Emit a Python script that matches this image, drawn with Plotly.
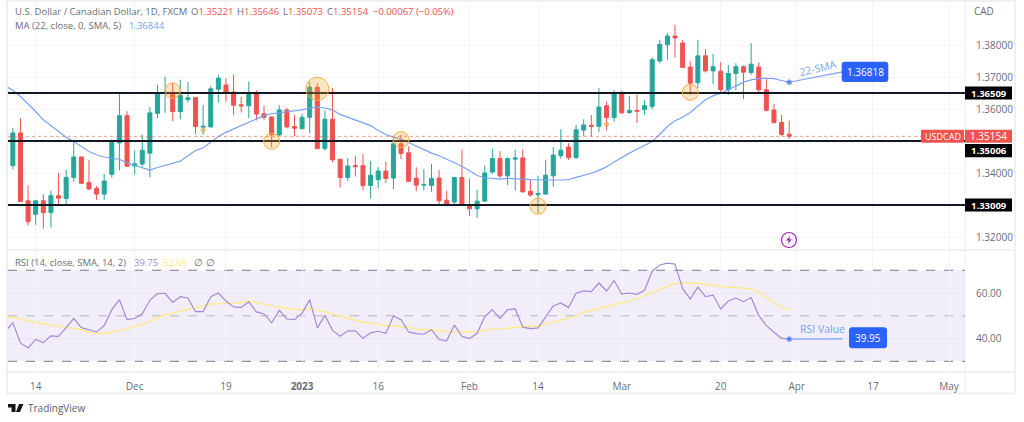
import plotly.graph_objects as go

opens = [
    1.3424, 1.3526, 1.3314, 1.3272, 1.3314, 1.3277, 1.3330, 1.3321, 1.3387, 1.3451,
    1.3371, 1.3353, 1.3335, 1.3397, 1.3495, 1.3580, 1.3423, 1.3429, 1.3463, 1.3587,
    1.3651, 1.3653, 1.3593, 1.3630, 1.3637, 1.3544, 1.3545, 1.3663, 1.3676, 1.3654,
    1.3614, 1.3611, 1.3650, 1.3586, 1.3576, 1.3520, 1.3598, 1.3546, 1.3539, 1.3575,
    1.3669, 1.3477, 1.3569, 1.3444, 1.3387, 1.3424, 1.3424, 1.3362, 1.3380, 1.3407,
    1.3385, 1.3492, 1.3464, 1.3385, 1.3363, 1.3362, 1.3385, 1.3316, 1.3310, 1.3387,
    1.3302, 1.3289, 1.3313, 1.3404, 1.3446, 1.3392, 1.3444, 1.3448, 1.3344, 1.3333,
    1.3335, 1.3392, 1.3455, 1.3482, 1.3449, 1.3535, 1.3550, 1.3547, 1.3611, 1.3574,
    1.3649, 1.3590, 1.3596, 1.3599, 1.3609, 1.3751, 1.3802, 1.3829, 1.3807, 1.3732,
    1.3683, 1.3767, 1.3720, 1.3719, 1.3661, 1.3712, 1.3733, 1.3715, 1.3732, 1.3661,
    1.3598, 1.3559, 1.35221,
]
highs = [
    1.3542, 1.3572, 1.3362, 1.3317, 1.3335, 1.3346, 1.3401, 1.3411, 1.3505, 1.3452,
    1.3442, 1.3361, 1.3398, 1.3505, 1.3647, 1.3594, 1.3472, 1.3521, 1.3607, 1.3677,
    1.3702, 1.3682, 1.3692, 1.3685, 1.3637, 1.3614, 1.3673, 1.3707, 1.3697, 1.3708,
    1.3639, 1.3687, 1.3659, 1.3611, 1.3577, 1.3613, 1.3604, 1.3582, 1.3586, 1.3686,
    1.3682, 1.3596, 1.3667, 1.3444, 1.3447, 1.3455, 1.3460, 1.3439, 1.3419, 1.3436,
    1.3510, 1.3521, 1.3484, 1.3419, 1.3413, 1.3429, 1.3410, 1.3346, 1.3389, 1.3474,
    1.3383, 1.3348, 1.3425, 1.3476, 1.3469, 1.3450, 1.3473, 1.3475, 1.3382, 1.3392,
    1.3442, 1.3482, 1.3538, 1.3494, 1.3551, 1.3569, 1.3582, 1.3666, 1.3624, 1.3661,
    1.3659, 1.3642, 1.3646, 1.3629, 1.3762, 1.3817, 1.3838, 1.3864, 1.3817, 1.3750,
    1.3817, 1.3788, 1.3773, 1.3748, 1.3739, 1.3744, 1.3737, 1.3807, 1.3747, 1.3694,
    1.3616, 1.3582, 1.35646,
]
lows = [
    1.3412, 1.3311, 1.3237, 1.3239, 1.3227, 1.3230, 1.3304, 1.3303, 1.3374, 1.3366,
    1.3348, 1.3317, 1.3317, 1.3387, 1.3409, 1.3421, 1.3397, 1.3421, 1.3388, 1.3572,
    1.3589, 1.3563, 1.3569, 1.3621, 1.3522, 1.3521, 1.3543, 1.3621, 1.3624, 1.3582,
    1.3590, 1.3572, 1.3565, 1.3567, 1.3482, 1.3517, 1.3541, 1.3515, 1.3538, 1.3525,
    1.3476, 1.3471, 1.3435, 1.3356, 1.3376, 1.3390, 1.3346, 1.3321, 1.3353, 1.3369,
    1.3351, 1.3444, 1.3373, 1.3344, 1.3346, 1.3342, 1.3303, 1.3302, 1.3299, 1.3301,
    1.3267, 1.3261, 1.3311, 1.3398, 1.3385, 1.3363, 1.3346, 1.3340, 1.3327, 1.3275,
    1.3333, 1.3358, 1.3446, 1.3442, 1.3444, 1.3515, 1.3515, 1.3529, 1.3534, 1.3561,
    1.3585, 1.3585, 1.3557, 1.3583, 1.3600, 1.3744, 1.3755, 1.3762, 1.3729, 1.3645,
    1.3666, 1.3715, 1.3679, 1.3648, 1.3645, 1.3659, 1.3632, 1.3708, 1.3652, 1.3593,
    1.3557, 1.3517, 1.35073,
]
closes = [
    1.3526, 1.3312, 1.3249, 1.3314, 1.3277, 1.3330, 1.3322, 1.3387, 1.3451, 1.3369,
    1.3351, 1.3335, 1.3376, 1.3496, 1.3580, 1.3422, 1.3430, 1.3472, 1.3589, 1.3651,
    1.3653, 1.3593, 1.3644, 1.3636, 1.3546, 1.3547, 1.3664, 1.3697, 1.3654, 1.3613,
    1.3611, 1.3650, 1.3585, 1.3575, 1.3520, 1.3598, 1.3545, 1.3541, 1.3575, 1.3669,
    1.3477, 1.3569, 1.3442, 1.3387, 1.3423, 1.3421, 1.3362, 1.3394, 1.3407, 1.3384,
    1.3492, 1.3462, 1.3375, 1.3363, 1.3365, 1.3384, 1.3314, 1.3303, 1.3387, 1.3302,
    1.3289, 1.3313, 1.3401, 1.3446, 1.3392, 1.3446, 1.3448, 1.3342, 1.3332, 1.3337,
    1.3394, 1.3457, 1.3472, 1.3449, 1.3536, 1.3551, 1.3547, 1.3607, 1.3574, 1.3649,
    1.3589, 1.3596, 1.3594, 1.3611, 1.3755, 1.3803, 1.3829, 1.3823, 1.3731, 1.3682,
    1.3767, 1.3720, 1.3733, 1.3661, 1.3712, 1.3733, 1.3716, 1.3741, 1.3661, 1.3597,
    1.3558, 1.3521, 1.35154,
]

# these three start one bar left of the first candle, the chart clips them
sma22 = [
    1.3673, 1.3659, 1.3640, 1.3617, 1.3593, 1.3567, 1.3548, 1.3530, 1.3513, 1.3499,
    1.3484, 1.3468, 1.3458, 1.3451, 1.3447, 1.3444, 1.3432, 1.3424, 1.3416, 1.3410,
    1.3418, 1.3425, 1.3432, 1.3438, 1.3455, 1.3471, 1.3480, 1.3497, 1.3515, 1.3528,
    1.3538, 1.3548, 1.3560, 1.3569, 1.3580, 1.3586, 1.3589, 1.3590, 1.3593, 1.3598,
    1.3604, 1.3607, 1.3604, 1.3598, 1.3584, 1.3575, 1.3567, 1.3557, 1.3549, 1.3534,
    1.3521, 1.3513, 1.3507, 1.3496, 1.3485, 1.3473, 1.3463, 1.3455, 1.3444, 1.3434,
    1.3422, 1.3408, 1.3393, 1.3386, 1.3383, 1.3382, 1.3384, 1.3384, 1.3382, 1.3380,
    1.3379, 1.3379, 1.3379, 1.3379, 1.3380, 1.3387, 1.3393, 1.3400, 1.3409, 1.3420,
    1.3435, 1.3450, 1.3463, 1.3475, 1.3487, 1.3499, 1.3522, 1.3546, 1.3564, 1.3575,
    1.3590, 1.3611, 1.3630, 1.3642, 1.3650, 1.3661, 1.3674, 1.3685, 1.3692, 1.3696,
    1.3697, 1.3696, 1.3690, 1.36844,
]
rsi = [
    43.2, 46.9, 38.1, 35.9, 39.6, 38.2, 41.2, 41.0, 44.8, 48.8,
    44.8, 43.8, 42.9, 45.7, 52.7, 57.1, 48.3, 48.8, 50.9, 56.8,
    59.7, 59.9, 55.9, 58.4, 57.8, 51.8, 51.8, 58.4, 60.0, 56.5,
    53.9, 53.7, 56.1, 51.7, 50.8, 46.9, 52.4, 48.6, 48.3, 51.1,
    57.1, 44.7, 50.2, 43.6, 41.0, 43.4, 43.4, 40.1, 42.5, 43.2,
    42.3, 49.9, 48.3, 42.9, 42.2, 41.9, 43.9, 39.6, 39.0, 46.0,
    41.0, 40.0, 42.3, 49.6, 52.7, 48.8, 52.7, 53.0, 45.0, 44.4,
    44.7, 49.5, 54.3, 55.6, 53.6, 59.9, 60.9, 60.6, 64.4, 60.9,
    65.5, 59.6, 60.0, 59.4, 61.2, 69.6, 72.3, 73.1, 72.7, 61.9,
    57.4, 62.6, 58.4, 59.1, 53.0, 56.5, 57.8, 56.2, 58.0, 50.2,
    45.7, 42.8, 40.1, 39.75,
]
rsi_ma = [
    49.9, 49.2, 48.5, 47.7, 46.9, 46.3, 45.8, 45.4, 44.8, 44.4,
    43.9, 42.8, 42.2, 42.2, 42.8, 43.5, 44.2, 45.3, 46.3, 47.4,
    49.2, 50.4, 51.1, 52.0, 52.8, 53.6, 54.3, 55.2, 55.3, 55.3,
    55.6, 55.9, 56.4, 55.9, 55.0, 54.3, 53.9, 53.3, 52.8, 52.7,
    53.0, 52.3, 51.7, 50.7, 49.8, 48.9, 48.0, 47.2, 46.7, 46.4,
    45.7, 45.5, 45.5, 45.0, 44.1, 43.8, 43.5, 43.2, 43.1, 42.9,
    42.9, 42.9, 43.2, 43.6, 44.2, 44.2, 44.5, 45.0, 45.3, 45.5,
    45.5, 46.3, 47.4, 48.0, 48.9, 50.1, 51.5, 52.3, 53.1, 54.0,
    55.0, 55.5, 56.5, 57.5, 58.8, 60.3, 61.6, 62.9, 64.2, 64.5,
    64.4, 64.2, 63.8, 63.6, 62.9, 62.6, 62.5, 62.2, 61.8, 60.3,
    58.1, 55.9, 53.7, 52.66,
]

tick_bars = [3, 16, 28, 38, 48, 60, 69, 80, 93, 103, 113, 123]
tick_labels = ['14', 'Dec', '19', '<b>2023</b>', '16', 'Feb', '14', 'Mar', '20', 'Apr', '17', 'May']
price_ticks = [1.38, 1.37, 1.36, 1.35, 1.34, 1.33, 1.32]
price_labels = ['1.38000', '1.37000', '1.36000', '', '1.34000', '', '1.32000']
levels = [1.36509, 1.35006, 1.33009]
last_close = 1.35154

# bar index, price, radius in px
touch_circles = [
    (21, 1.3658, 7.7), (34, 1.3500, 8), (40, 1.3664, 11.5), (51, 1.3505, 8),
    (69, 1.3297, 8), (89, 1.3653, 8), (78, 1.3553, 2), (25, 1.3536, 2),
]

W, H = 1024, 422
LEFT, RIGHT = 8, 965
X_RANGE = [-0.64, 125.1]
PRICE_RANGE = [1.31634, 1.39384]
RSI_RANGE = [25.75, 78.46]
BAR_PX = 7.61
PRICE_PX = 3200

FONT = 'Open Sans'
TEXT = '#6a6d78'
BORDER = '#eef0f6'
GRID = '#f2f4f9'
GREEN = '#26a69a'
RED = '#ef5350'
BLUE = '#2962ff'
SMA_BLUE = '#7ba1f7'
PURPLE = '#a48bd6'
YELLOW = '#fdeb7a'
LEGEND_SIZE = 9.5


def px(x):
    return x / W


def py(y):
    return 1 - y / H


def box_path(x0, y0, x1, y1, r=3):
    # rounded box given in pixels of the page
    return (
        f'M {px(x0 + r)} {py(y0)} L {px(x1 - r)} {py(y0)} Q {px(x1)} {py(y0)} {px(x1)} {py(y0 + r)} '
        f'L {px(x1)} {py(y1 - r)} Q {px(x1)} {py(y1)} {px(x1 - r)} {py(y1)} '
        f'L {px(x0 + r)} {py(y1)} Q {px(x0)} {py(y1)} {px(x0)} {py(y1 - r)} '
        f'L {px(x0)} {py(y0 + r)} Q {px(x0)} {py(y0)} {px(x0 + r)} {py(y0)} Z'
    )


def add_text(fig, x, y, text, color=TEXT, size=LEGEND_SIZE, anchor='left', angle=0):
    fig.add_annotation(
        x=px(x), y=py(y), xref='paper', yref='paper', text=text, showarrow=False,
        xanchor=anchor, yanchor='middle', textangle=angle, borderpad=0,
        font=dict(family=FONT, size=size, color=color),
    )


def add_box(fig, x0, y0, x1, y1, color, r=0):
    fig.add_shape(
        type='path', xref='paper', yref='paper', path=box_path(x0, y0, x1, y1, r),
        fillcolor=color, line=dict(width=0), layer='above',
    )


def add_frame_line(fig, x0, y0, x1, y1, width=2):
    fig.add_shape(
        type='line', xref='paper', yref='paper', x0=px(x0), y0=py(y0), x1=px(x1), y1=py(y1),
        line=dict(color=BORDER, width=width), layer='below',
    )


fig = go.Figure()
fig.add_trace(go.Candlestick(
    x=list(range(len(opens))), open=opens, high=highs, low=lows, close=closes,
    increasing=dict(line=dict(color=GREEN, width=1), fillcolor=GREEN),
    decreasing=dict(line=dict(color=RED, width=1), fillcolor=RED),
    whiskerwidth=0, xaxis='x', yaxis='y',
))
fig.add_trace(go.Scatter(
    x=list(range(-1, len(sma22) - 1)), y=sma22, mode='lines',
    line=dict(color=SMA_BLUE, width=1.2), xaxis='x', yaxis='y',
))
fig.add_trace(go.Scatter(
    x=list(range(-1, len(rsi_ma) - 1)), y=rsi_ma, mode='lines',
    line=dict(color=YELLOW, width=1.2), xaxis='x', yaxis='y2',
))
fig.add_trace(go.Scatter(
    x=list(range(-1, len(rsi) - 1)), y=rsi, mode='lines',
    line=dict(color=PURPLE, width=1.2), xaxis='x', yaxis='y2',
))

# callouts on the last bar
fig.add_trace(go.Scatter(
    x=[102, 109], y=[1.36844, 1.3717], mode='lines+markers',
    line=dict(color=SMA_BLUE, width=1.2), marker=dict(color=BLUE, size=[5, 0]),
    xaxis='x', yaxis='y',
))
fig.add_trace(go.Scatter(
    x=[102, 109], y=[39.75, 39.9], mode='lines+markers',
    line=dict(color=SMA_BLUE, width=1.2), marker=dict(color=BLUE, size=[5, 0]),
    xaxis='x', yaxis='y2',
))

fig.update_layout(
    width=W, height=H,
    margin=dict(l=0, r=0, t=0, b=0),
    paper_bgcolor='white', plot_bgcolor='white',
    showlegend=False,
    boxgap=0.25,
    font=dict(family=FONT, size=10, color=TEXT),
    xaxis=dict(
        domain=[px(LEFT), px(RIGHT)], range=X_RANGE, anchor='y2',
        tickmode='array', tickvals=tick_bars, ticktext=tick_labels,
        ticks='outside', ticklen=6, tickcolor='rgba(0,0,0,0)',
        showgrid=True, gridcolor=GRID, gridwidth=1, zeroline=False,
        rangeslider=dict(visible=False), tickfont=dict(size=10, color=TEXT),
    ),
    yaxis=dict(
        domain=[py(249), py(1)], range=PRICE_RANGE, side='right', anchor='x',
        tickmode='array', tickvals=price_ticks, ticktext=price_labels,
        ticks='outside', ticklen=8, tickcolor='rgba(0,0,0,0)',
        showgrid=True, gridcolor=GRID, gridwidth=1, zeroline=False,
        tickfont=dict(size=10, color=TEXT),
    ),
    yaxis2=dict(
        domain=[py(371), py(251)], range=RSI_RANGE, side='right', anchor='x',
        tickmode='array', tickvals=[60, 40], ticktext=['60.00', '40.00'],
        ticks='outside', ticklen=8, tickcolor='rgba(0,0,0,0)',
        showgrid=True, gridcolor='#e9e6f2', gridwidth=1, zeroline=False,
        tickfont=dict(size=10, color=TEXT),
    ),
)

# widget frame
add_frame_line(fig, LEFT - 1, 1, 1015, 1)
add_frame_line(fig, LEFT - 1, 250, 1015, 250)
add_frame_line(fig, LEFT - 1, 372, 1015, 372)
add_frame_line(fig, LEFT - 1, 393.5, 1015, 393.5)
add_frame_line(fig, LEFT - 1, 0, LEFT - 1, 394)
add_frame_line(fig, RIGHT, 0, RIGHT, 394, width=1)
add_frame_line(fig, 1015, 0, 1015, 394)

# rsi band
fig.add_shape(
    type='rect', xref='x domain', yref='y2', x0=0, x1=1, y0=30, y1=70,
    fillcolor='rgba(126,87,194,0.10)', line=dict(width=0), layer='below',
)
for value, colour in [(70, '#787b86'), (50, '#b6b7bf'), (30, '#787b86')]:
    fig.add_shape(
        type='line', xref='x domain', yref='y2', x0=0, x1=1, y0=value, y1=value,
        line=dict(color=colour, width=1, dash='dash'), layer='below',
    )

# last price and support / resistance lines
fig.add_shape(
    type='line', xref='x domain', yref='y', x0=0, x1=1, y0=last_close, y1=last_close,
    line=dict(color='rgba(239,83,80,0.75)', width=0.8, dash='dot'), layer='above',
)
for level in levels:
    fig.add_shape(
        type='line', xref='x domain', yref='y', x0=0, x1=1, y0=level, y1=level,
        line=dict(color='#131722', width=2), layer='above',
    )

for bar, price, radius in touch_circles:
    fig.add_shape(
        type='circle', xref='x', yref='y',
        x0=bar - radius / BAR_PX, x1=bar + radius / BAR_PX,
        y0=price - radius / PRICE_PX, y1=price + radius / PRICE_PX,
        fillcolor='rgba(255,167,38,0.28)', line=dict(color='#f7ad4b', width=1), layer='above',
    )

# price scale tags, the middle one gets pushed down clear of the last price tag
close_mid = 45.3 + (1.38 - last_close) * PRICE_PX
add_box(fig, 921, close_mid - 6.5, 964, close_mid + 6.5, RED, r=1)
add_box(fig, RIGHT, close_mid - 6.5, 1012, close_mid + 6.5, RED)
add_text(fig, 942.5, close_mid, 'USDCAD', color='white', size=9, anchor='center')
add_text(fig, 988.5, close_mid, '1.35154', color='white', size=10, anchor='center')
for level, shift in zip(levels, [0, 9.5, 0]):
    mid = 45.3 + (1.38 - level) * PRICE_PX + shift
    add_box(fig, RIGHT, mid - 6.6, 1012, mid + 6.6, '#000000')
    add_text(fig, 988.5, mid, f'<b>{level:.5f}</b>', color='white', size=9.5, anchor='center')
add_text(fig, 973, 11, 'CAD', size=10)

# callout boxes
add_box(fig, 841.7, 61.7, 888.3, 82, BLUE, r=3)
add_text(fig, 865, 72, '1.36818', color='white', size=10, anchor='center')
add_text(fig, 818, 68, '22-SMA', color=SMA_BLUE, size=10.5, anchor='center', angle=-13)
add_box(fig, 849, 327.3, 887, 348.3, BLUE, r=3)
add_text(fig, 868, 338, '39.95', color='white', size=10, anchor='center')
add_text(fig, 822.7, 328.5, 'RSI Value', color=SMA_BLUE, size=10.5, anchor='center')

# legend lines
add_text(fig, 14, 12, 'U.S. Dollar / Canadian Dollar, 1D, FXCM')
add_text(fig, 190, 12, f'O<span style="color:{RED}">1.35221</span>')
add_text(fig, 236, 12, f'H<span style="color:{RED}">1.35646</span>')
add_text(fig, 282, 12, f'L<span style="color:{RED}">1.35073</span>')
add_text(fig, 326, 12, f'C<span style="color:{RED}">1.35154</span>')
add_text(fig, 372, 12, '−0.00067 (−0.05%)', color=RED)
add_text(fig, 14, 26, 'MA (22, close, 0, SMA, 5)')
add_text(fig, 128, 26, '1.36844', color=SMA_BLUE)
add_text(fig, 14, 262, 'RSI (14, close, SMA, 14, 2)')
add_text(fig, 133, 262, '39.75', color=PURPLE)
add_text(fig, 162, 262, '52.66', color=YELLOW)
add_text(fig, 193, 262, '∅', color=TEXT)
add_text(fig, 205, 262, '∅', color=TEXT)

# bolt badge
fig.add_shape(
    type='circle', xref='paper', yref='paper',
    x0=px(781.5), x1=px(796.5), y0=py(247.5), y1=py(232.5),
    fillcolor='white', line=dict(color='#9c27b0', width=1.2), layer='above',
)
fig.add_shape(
    type='path', xref='paper', yref='paper',
    path=(f'M {px(790.5)} {py(235.5)} L {px(786)} {py(240.5)} L {px(788.7)} {py(240.5)} '
          f'L {px(787.5)} {py(244.5)} L {px(792)} {py(239.2)} L {px(789.3)} {py(239.2)} Z'),
    fillcolor='#9c27b0', line=dict(width=0), layer='above',
)

# TradingView logo
fig.add_shape(
    type='path', xref='paper', yref='paper',
    path=(f'M {px(8)} {py(404)} L {px(15.5)} {py(404)} L {px(15.5)} {py(412)} L {px(11.5)} {py(412)} '
          f'L {px(11.5)} {py(407.5)} L {px(8)} {py(407.5)} Z'),
    fillcolor='#131722', line=dict(width=0), layer='above',
)
fig.add_shape(
    type='path', xref='paper', yref='paper',
    path=(f'M {px(19)} {py(404)} L {px(23.5)} {py(404)} L {px(20)} {py(412)} L {px(16)} {py(412)} Z'),
    fillcolor='#131722', line=dict(width=0), layer='above',
)
add_text(fig, 26.5, 408, 'TradingView', color='#5d606b', size=10)

fig.write_html('out.html', config=dict(displayModeBar=False), post_script="document.body.style.margin='0';")
